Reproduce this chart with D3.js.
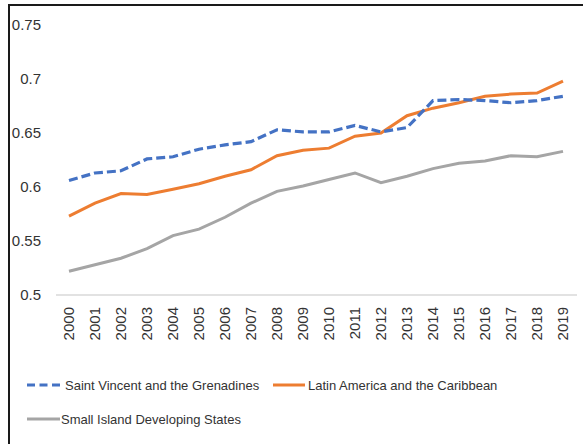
<!DOCTYPE html>
<html>
<head>
<meta charset="utf-8">
<script src="https://cdn.jsdelivr.net/npm/d3@7"></script>
<style>
  body { margin: 0; background: #fff; }
  svg { display: block; font-family: "Liberation Sans", Arial, sans-serif; }
</style>
</head>
<body>
<div id="chart"></div>
<script>
// data
const years = ["2000","2001","2002","2003","2004","2005","2006","2007","2008","2009",
               "2010","2011","2012","2013","2014","2015","2016","2017","2018","2019"];
const stVincent = [0.606, 0.613, 0.615, 0.626, 0.628, 0.635, 0.639, 0.642, 0.653, 0.651,
                   0.651, 0.657, 0.651, 0.655, 0.680, 0.681, 0.680, 0.678, 0.680, 0.684];
const latinAmerica = [0.573, 0.585, 0.594, 0.593, 0.598, 0.603, 0.610, 0.616, 0.629, 0.634,
                      0.636, 0.647, 0.650, 0.666, 0.673, 0.678, 0.684, 0.686, 0.687, 0.698];
const sids = [0.522, 0.528, 0.534, 0.543, 0.555, 0.561, 0.572, 0.585, 0.596, 0.601,
              0.607, 0.613, 0.604, 0.610, 0.617, 0.622, 0.624, 0.629, 0.628, 0.633];
const yTicks = [0.5, 0.55, 0.6, 0.65, 0.7, 0.75];
const seriesNames = ["Saint Vincent and the Grenadines", "Latin America and the Caribbean", "Small Island Developing States"];

const width = 583, height = 444;
const svg = d3.select("#chart").append("svg")
    .attr("width", width)
    .attr("height", height);

// outer frame (right/bottom edges fall outside the picture)
svg.append("rect")
   .attr("x", 9).attr("y", 5)
   .attr("width", 620).attr("height", 480)
   .attr("fill", "none")
   .attr("stroke", "#1a1a1a")
   .attr("stroke-width", 2);

let x = d3.scaleBand().domain(years).range([56, 576]).padding(0);
let y = d3.scaleLinear().domain([0.5, 0.75]).range([295, 25]);

// baseline
svg.append("line")
   .attr("x1", 56).attr("x2", 577)
   .attr("y1", y(0.5)).attr("y2", y(0.5))
   .attr("stroke", "#d9d9d9")
   .attr("stroke-width", 1.5);

let yAxis = svg.append("g")
               .attr("transform", "translate(56,0)")
               .call(d3.axisLeft(y).tickValues(yTicks).tickSize(0).tickPadding(15)
                     .tickFormat(d => String(+d.toFixed(2))));
yAxis.select(".domain").remove();
yAxis.selectAll("text")
     .style("font-size", "15px")
     .style("font-family", "Liberation Sans, Arial, sans-serif")
     .attr("fill", "#333");

let xAxis = svg.append("g")
               .attr("transform", "translate(0," + y(0.5) + ")")
               .call(d3.axisBottom(x).tickSize(0).tickPadding(0));
xAxis.select(".domain").remove();
xAxis.selectAll("text")
     .style("font-size", "15px")
     .style("font-family", "Liberation Sans, Arial, sans-serif")
     .attr("fill", "#333")
     .attr("text-anchor", "end")
     .attr("transform", "rotate(-90)")
     .attr("x", -12)
     .attr("y", 0)
     .attr("dy", "0.35em");

let line = d3.line()
             .x((d, i) => x(years[i]) + x.bandwidth() / 2)
             .y(d => y(d));

svg.append("path").datum(sids)
   .attr("d", line).attr("fill", "none")
   .attr("stroke", "#a5a5a5").attr("stroke-width", 3);

svg.append("path").datum(latinAmerica)
   .attr("d", line).attr("fill", "none")
   .attr("stroke", "#ed7d31").attr("stroke-width", 3);

svg.append("path").datum(stVincent)
   .attr("d", line).attr("fill", "none")
   .attr("stroke", "#4472c4").attr("stroke-width", 3.2)
   .attr("stroke-dasharray", "9,4");

// legend
let legend = svg.append("g").style("font-size", "13px");
let legendItems = [
    {name: seriesNames[0], color: "#4472c4", dash: "8,4.5", x1: 27, x2: 60, tx: 65, y: 385},
    {name: seriesNames[1], color: "#ed7d31", dash: null, x1: 273, x2: 305, tx: 308, y: 385},
    {name: seriesNames[2], color: "#a5a5a5", dash: null, x1: 27, x2: 60, tx: 61, y: 419}
];
legendItems.forEach(d => {
    legend.append("line")
          .attr("x1", d.x1).attr("x2", d.x2)
          .attr("y1", d.y).attr("y2", d.y)
          .attr("stroke", d.color)
          .attr("stroke-width", 3)
          .attr("stroke-dasharray", d.dash);
    legend.append("text")
          .attr("x", d.tx).attr("y", d.y)
          .attr("dy", "0.35em")
          .attr("fill", "#333")
          .text(d.name);
});
</script>
</body>
</html>
